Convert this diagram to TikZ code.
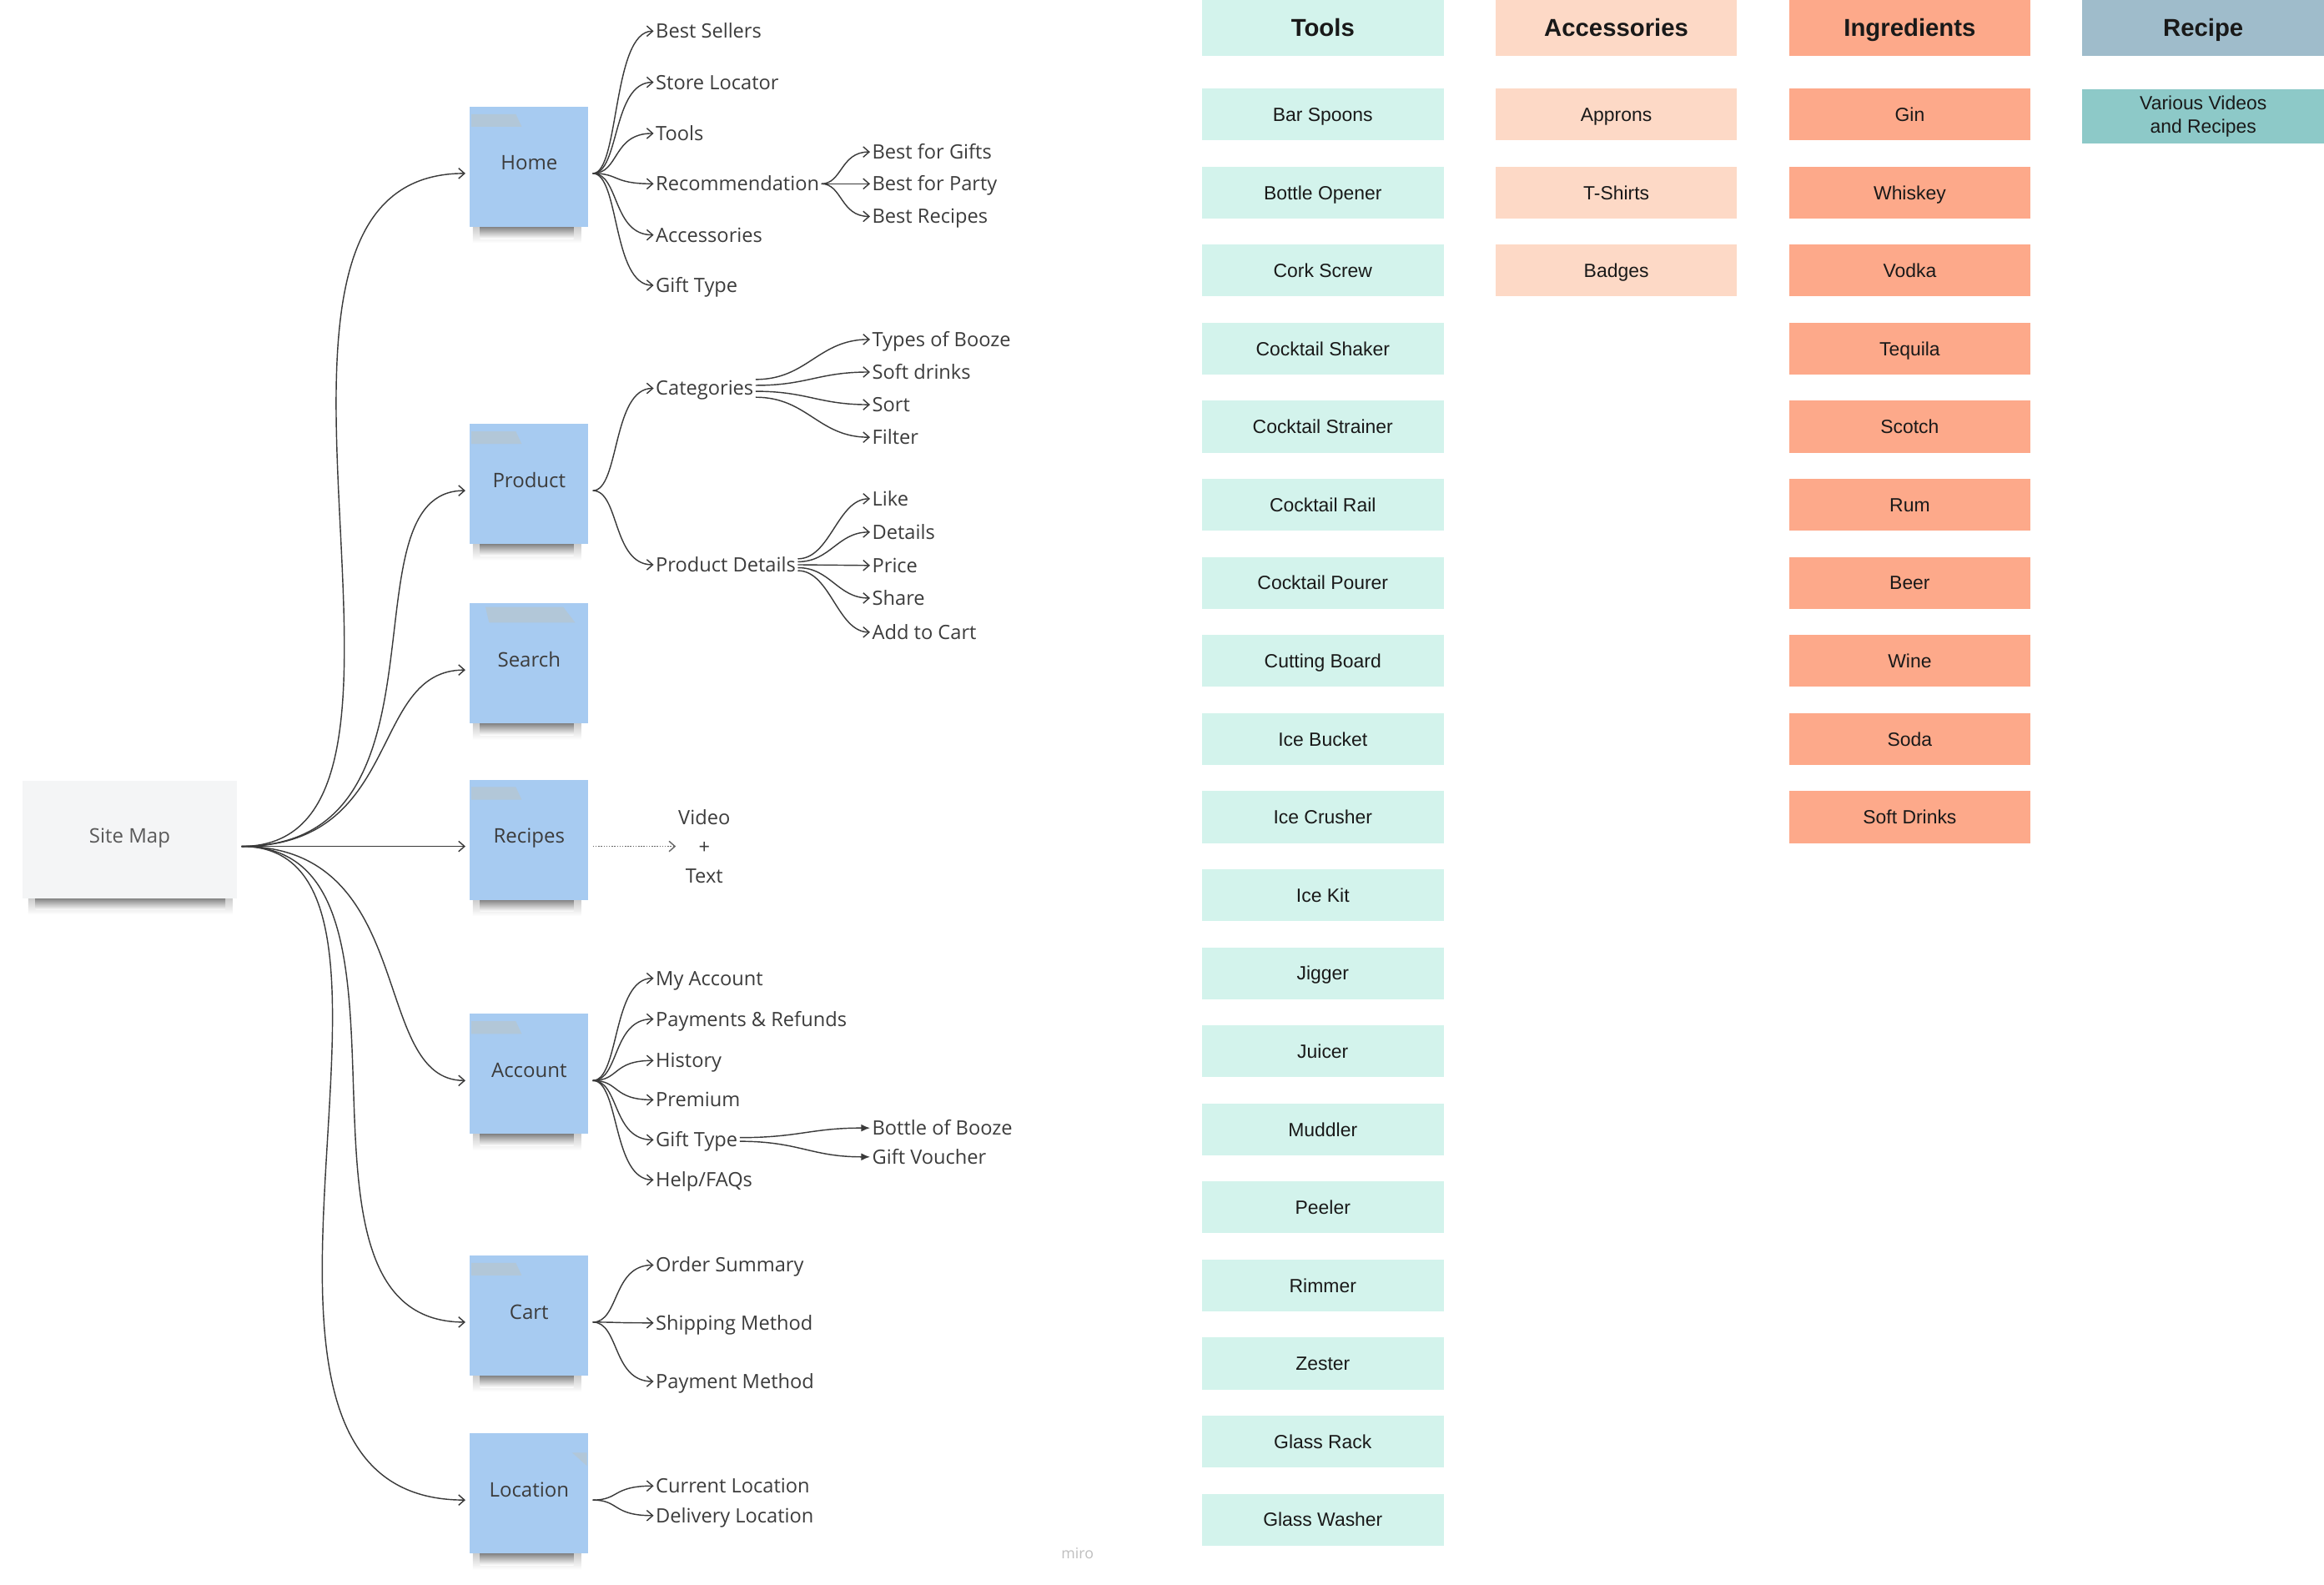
\documentclass[tikz,border=0pt]{standalone}
\usepackage{fontspec}
\setmainfont{Open Sans}
\newfontfamily\rob{Liberation Sans}
\usetikzlibrary{arrows.meta}
\definecolor{stickyc}{HTML}{A7CBF1}
\definecolor{tapec}{HTML}{B2C7D8}
\definecolor{ink}{HTML}{3C3C3C}
\definecolor{linec}{HTML}{3A3A3A}
\definecolor{mint}{HTML}{D3F3EC}
\definecolor{peach}{HTML}{FDD9C6}
\definecolor{salmon}{HTML}{FDA98A}
\definecolor{slate}{HTML}{9FBCCB}
\definecolor{tealc}{HTML}{8DC9C8}
\definecolor{sitec}{HTML}{F4F5F6}
\newcommand\lblfont{\fontsize{13.3}{16}\selectfont}
\newcommand\softshadow[3]{% left x, right x, top y
  \shade[top color=black!22, bottom color=white] (#1,#3-1) rectangle (#2,#3+11);
  \shade[top color=black!55, bottom color=white] (#1+5,#3-1) rectangle (#2-5,#3+8);}
\newcommand\stk[4]{%
  \softshadow{#2-38}{#2+35}{#3+36}
  \node[sticky] (#1) at (#2,#3-4.5) {#4};}
\newcommand\tapepatch[2]{%
  \fill[tapec] (#1-39,#2-40) -- (#1-9,#2-40) -- (#1-5,#2-31.5) -- (#1-39,#2-31.5) -- cycle;}
\tikzset{
  sticky/.style={fill=stickyc, minimum width=80pt, minimum height=81pt, inner sep=0pt,
    outer sep=3pt, text=ink, text height=9.6pt, text depth=5pt, font=\fontsize{13.5}{16}\selectfont},
  lbl/.style={anchor=west, inner sep=1.5pt, outer sep=0pt, text height=9.5pt, text depth=0pt,
    text=ink, font=\lblfont},
  conn/.style={draw=linec, line width=0.8pt, -{Straight Barb[length=4pt,width=7pt,line width=0.8pt]}},
  connf/.style={draw=linec, line width=0.8pt, -{Latex[length=6pt,width=5pt]}},
  tbase/.style={minimum width=163pt, minimum height=35pt, inner sep=0pt,
    font=\rob\fontsize{12.9}{15.5}\selectfont, text=black!90},
  tcell/.style={tbase, text height=9.3pt, text depth=0pt},
  thead/.style={minimum width=163pt, minimum height=37.5pt, inner sep=0pt, text height=11.9pt,
    text depth=0pt, font=\rob\bfseries\fontsize{16.5}{20}\selectfont, text=black!90}
}
\begin{document}
\begin{tikzpicture}[x=1pt,y=-1pt]
\useasboundingbox (0,0) rectangle (1568,1069);
\fill[white] (0,0) rectangle (1568,1069);

% ---------- Site map ----------
\softshadow{19}{157}{606}
\node[fill=sitec, minimum width=145pt, minimum height=79pt, inner sep=0pt, outer sep=3pt,
  text=black!65, text height=9.6pt, text depth=5pt, font=\fontsize{13.5}{16}\selectfont] (site) at (87.5,566.5) {Site Map};

% ---------- sticky notes ----------
\stk{home}{357}{117}{Home}
\stk{product}{357}{331}{Product}
\stk{search}{357}{452}{Search}
\stk{recipes}{357}{571}{Recipes}
\stk{account}{357}{729}{Account}
\stk{cart}{357}{892}{Cart}
\stk{location}{357}{1012}{Location}
\tapepatch{357}{117}
\tapepatch{357}{331}
\tapepatch{357}{571}
\tapepatch{357}{729}
\tapepatch{357}{892}
\fill[tapec] (327.5,409.5) -- (380,409.5) -- (388,420) -- (330,420) -- cycle;
\fill[tapec] (386,980) -- (396,980) -- (396,989) -- cycle;

% ---------- site map connectors ----------
\draw[conn] ([yshift=-4.5pt]site.east) .. controls +(160,0) and +(-185,0) .. ([yshift=-4.5pt]home.west);
\draw[conn] ([yshift=-4.5pt]site.east) .. controls +(150,0) and +(-85,0) .. ([yshift=-4.5pt]product.west);
\draw[conn] ([yshift=-4.5pt]site.east) .. controls +(110,0) and +(-66,0) .. ([yshift=-4.5pt]search.west);
\draw[conn] ([yshift=-4.5pt]site.east) -- ([yshift=-4.5pt]recipes.west);
\draw[conn] ([yshift=-4.5pt]site.east) .. controls +(120,0) and +(-65,0) .. ([yshift=-4.5pt]account.west);
\draw[conn] ([yshift=-4.5pt]site.east) .. controls +(140,0) and +(-140,0) .. ([yshift=-4.5pt]cart.west);
\draw[conn] ([yshift=-4.5pt]site.east) .. controls +(150,0) and +(-200,0) .. ([yshift=-4.5pt]location.west);

% ---------- Home ----------
\node[lbl] (bs) at (441,21) {Best Sellers};
\node[lbl] (sl) at (441,55.5) {Store Locator};
\node[lbl] (tl) at (441,90) {Tools};
\node[lbl] (rc) at (441,124) {Recommendation};
\node[lbl] (hac) at (441,158.5) {Accessories};
\node[lbl] (hgt) at (441,192.5) {Gift Type};
\foreach \n in {bs,sl,tl,rc,hac,hgt}
  \draw[conn] ([yshift=-4.5pt]home.east) .. controls +(18,0) and +(-28,0) .. (\n.west);
\node[lbl] (bg) at (587,102.5) {Best for Gifts};
\node[lbl] (bp) at (587,124) {Best for Party};
\node[lbl] (br) at (587,146) {Best Recipes};
\foreach \n in {bg,bp,br}
  \draw[conn] (rc.east) .. controls +(14,0) and +(-20,0) .. (\n.west);

% ---------- Product ----------
\node[lbl] (cat) at (441,262) {Categories};
\node[lbl] (pd) at (441,381) {Product Details};
\foreach \n in {cat,pd}
  \draw[conn] ([yshift=-4.5pt]product.east) .. controls +(18,0) and +(-28,0) .. (\n.west);
\node[lbl] (tb) at (587,229) {Types of Booze};
\node[lbl] (sd) at (587,251) {Soft drinks};
\node[lbl] (so) at (587,273) {Sort};
\node[lbl] (fi) at (587,295) {Filter};
\draw[conn] ([yshift=6pt]cat.east) .. controls +(35,0) and +(-35,0) .. (tb.west);
\draw[conn] ([yshift=2pt]cat.east) .. controls +(35,0) and +(-35,0) .. (sd.west);
\draw[conn] ([yshift=-2pt]cat.east) .. controls +(35,0) and +(-35,0) .. (so.west);
\draw[conn] ([yshift=-6pt]cat.east) .. controls +(35,0) and +(-35,0) .. (fi.west);
\node[lbl] (lk) at (587,336.5) {Like};
\node[lbl] (dt) at (587,359) {Details};
\node[lbl] (pr) at (587,381.5) {Price};
\node[lbl] (sh) at (587,403.5) {Share};
\node[lbl] (atc) at (587,426.5) {Add to Cart};
\draw[conn] ([yshift=4pt]pd.east) .. controls +(22,0) and +(-22,0) .. (lk.west);
\draw[conn] ([yshift=2pt]pd.east) .. controls +(22,0) and +(-22,0) .. (dt.west);
\draw[conn] (pd.east) -- (pr.west);
\draw[conn] ([yshift=-2pt]pd.east) .. controls +(22,0) and +(-22,0) .. (sh.west);
\draw[conn] ([yshift=-4pt]pd.east) .. controls +(22,0) and +(-22,0) .. (atc.west);

% ---------- Recipes ----------
\node[anchor=west, inner sep=1.5pt, align=center, text=ink,
  font=\fontsize{13.3}{19.5}\selectfont] (vt) at (456,571) {Video\\+\\Text};
\draw[conn, densely dotted, draw=black!60] ([yshift=-4.5pt]recipes.east) -- (vt.west);

% ---------- Account ----------
\node[lbl] (ma) at (441,660) {My Account};
\node[lbl] (pay) at (441,687.5) {Payments \& Refunds};
\node[lbl] (hi) at (441,715.5) {History};
\node[lbl] (pm) at (441,742) {Premium};
\node[lbl] (agt) at (441,769) {Gift Type};
\node[lbl] (hf) at (441,796) {Help/FAQs};
\foreach \n in {ma,pay,hi,pm,agt,hf}
  \draw[conn] ([yshift=-4.5pt]account.east) .. controls +(18,0) and +(-28,0) .. (\n.west);
\node[lbl] (bob) at (587,761) {Bottle of Booze};
\node[lbl] (gv) at (587,780.5) {Gift Voucher};
\draw[connf] ([yshift=1.5pt]agt.east) .. controls +(40,0) and +(-40,0) .. (bob.west);
\draw[connf] ([yshift=-1pt]agt.east) .. controls +(40,0) and +(-40,0) .. (gv.west);

% ---------- Cart ----------
\node[lbl] (os) at (441,853.5) {Order Summary};
\node[lbl] (smt) at (441,892.5) {Shipping Method};
\node[lbl] (pmt) at (441,932) {Payment Method};
\foreach \n in {os,smt,pmt}
  \draw[conn] ([yshift=-4.5pt]cart.east) .. controls +(18,0) and +(-28,0) .. (\n.west);

% ---------- Location ----------
\node[lbl] (cl) at (441,1002.5) {Current Location};
\node[lbl] (dl) at (441,1022.5) {Delivery Location};
\foreach \n in {cl,dl}
  \draw[conn] ([yshift=-4.5pt]location.east) .. controls +(18,0) and +(-28,0) .. (\n.west);

\node[text=black!25, font=\fontsize{10}{12}\selectfont] (miro) at (727,1048) {miro};

% ---------- Tables ----------
\node[thead, fill=mint] (htools) at (892.5,18.75) {Tools};
\node[thead, fill=peach] (hacc) at (1090.5,18.75) {Accessories};
\node[thead, fill=salmon] (hing) at (1288.5,18.75) {Ingredients};
\node[thead, fill=slate, path picture={
    \fill[tealc] (1460,24) -- (1512,24) -- (1501,37.5) -- (1473,37.5) -- cycle;
    \fill[tealc] (1440,0) -- (1448,0) -- (1444,4) -- cycle;
    \fill[tealc] (1476,0) -- (1484,0) -- (1480,4) -- cycle;
    \fill[tealc] (1500,0) -- (1508,0) -- (1504,4) -- cycle;
  }] (hrec) at (1486.5,18.75) {Recipe};

\foreach \t [count=\i from 0] in {Bar Spoons,Bottle Opener,Cork Screw,Cocktail Shaker,
  Cocktail Strainer,Cocktail Rail,Cocktail Pourer,Cutting Board,Ice Bucket,Ice Crusher,
  Ice Kit,Jigger,Juicer,Muddler,Peeler,Rimmer,Zester,Glass Rack,Glass Washer}
  \node[tcell, fill=mint] (tool\i) at (892.5,77.2+52.67*\i) {\t};

\foreach \t [count=\i from 0] in {Approns,T-Shirts,Badges}
  \node[tcell, fill=peach] (acc\i) at (1090.5,77.2+52.67*\i) {\t};

\foreach \t [count=\i from 0] in {Gin,Whiskey,Vodka,Tequila,Scotch,Rum,Beer,Wine,Soda,Soft Drinks}
  \node[tcell, fill=salmon] (ing\i) at (1288.5,77.2+52.67*\i) {\t};

\node[tbase, fill=tealc, minimum height=37pt, align=center] (rec0) at (1486.5,78.5)
  {Various Videos\\and Recipes};
\end{tikzpicture}
\end{document}
